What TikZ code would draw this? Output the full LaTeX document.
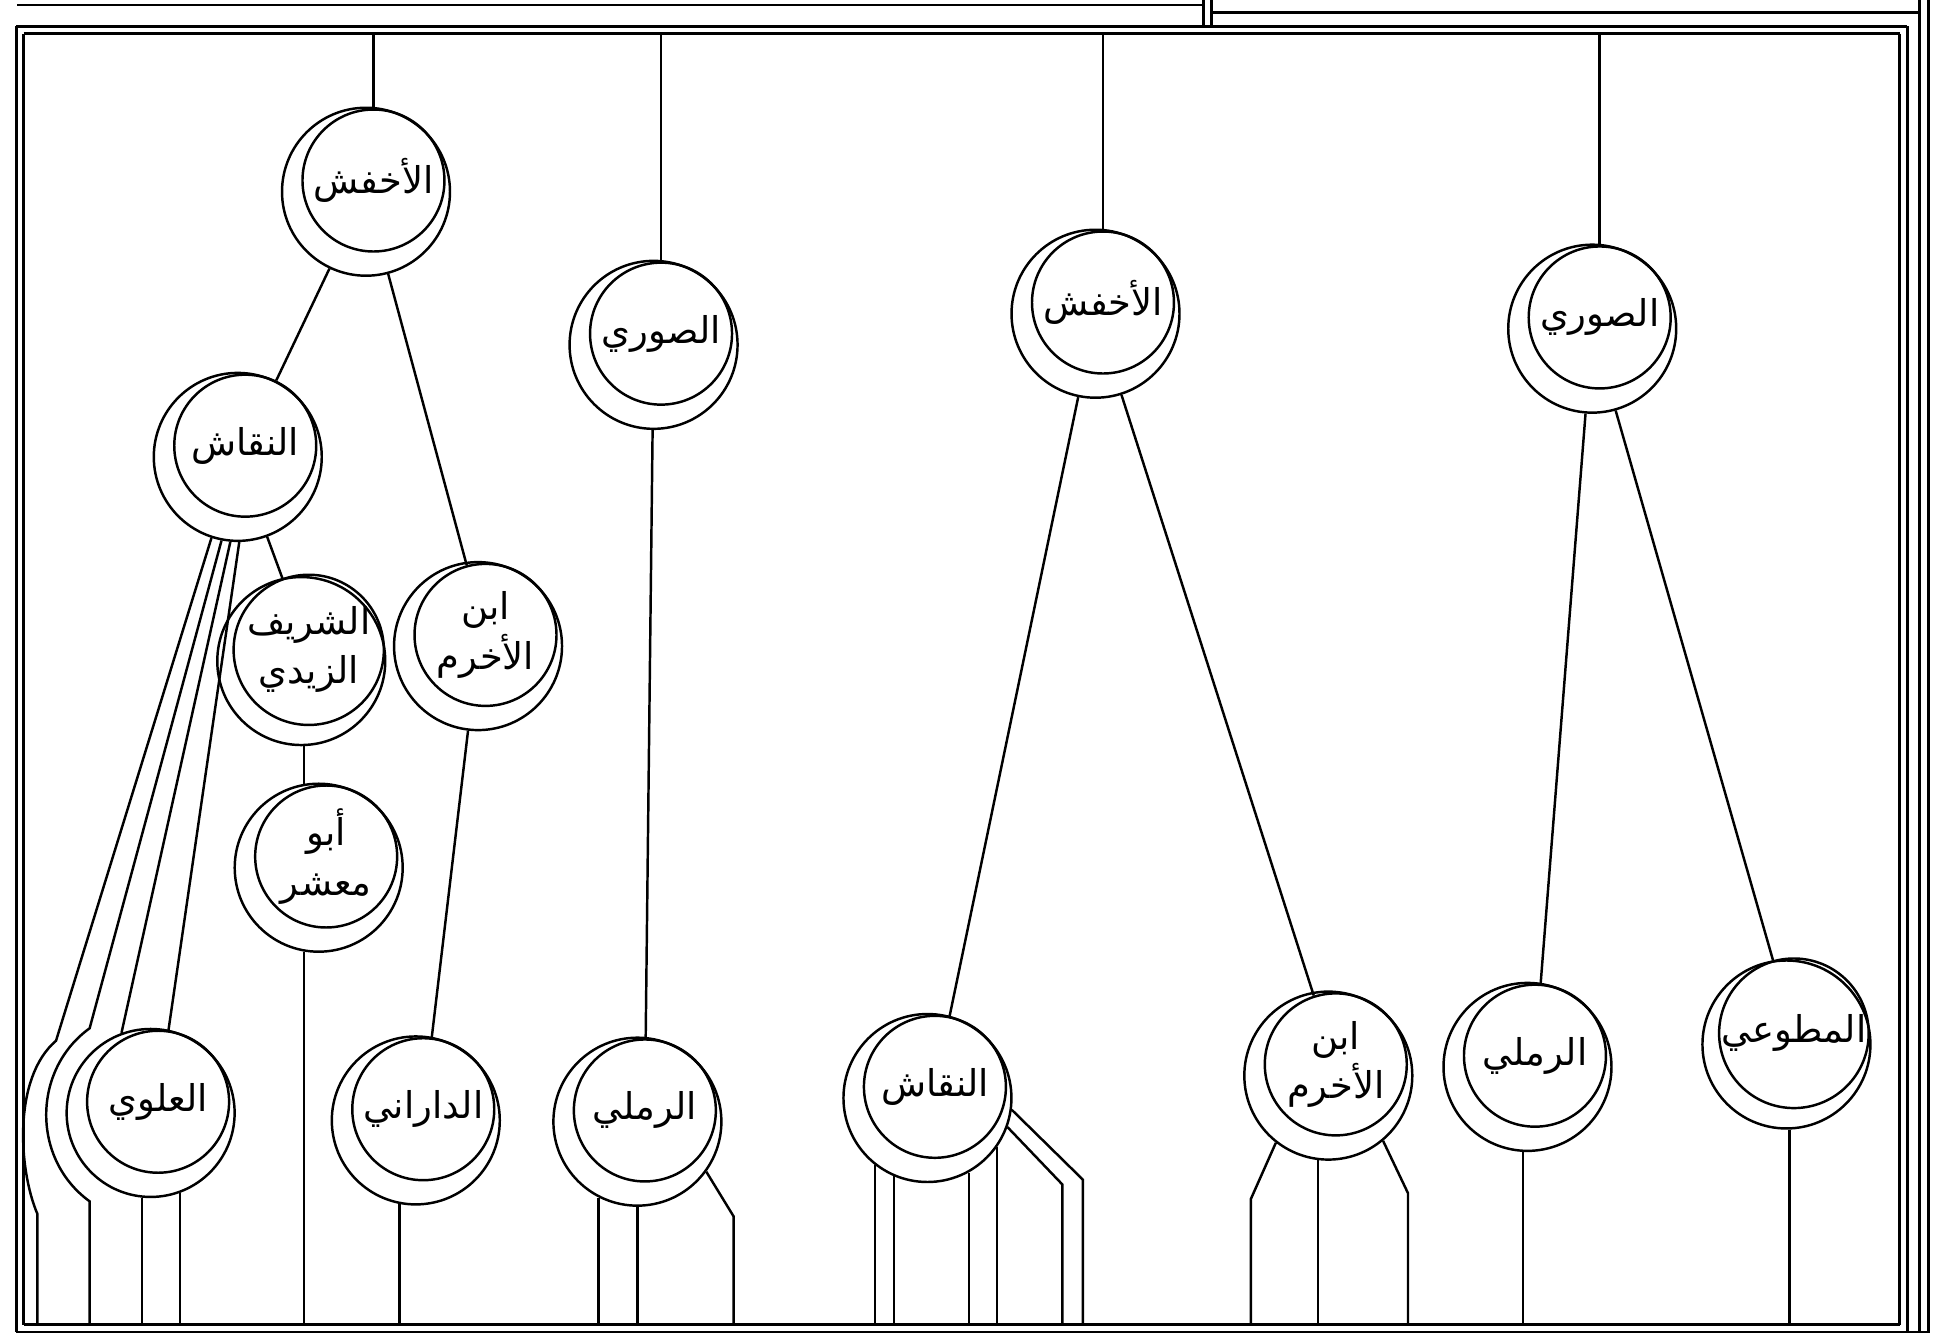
\documentclass[tikz,border=0pt]{standalone}
\usepackage{fontspec}
\newfontfamily\arabicfont[Script=Arabic]{DejaVu Sans}
\TeXXeTstate=1
\usetikzlibrary{positioning,calc}
\newcommand{\arb}[1]{\beginR #1\endR}

\begin{document}
\begin{tikzpicture}[x=0.01245cm,y=-0.01245cm,line width=0.7pt,
    rawi/.style={circle,draw,fill=white,minimum size=1.42cm,inner sep=0pt,align=center,
                 font=\arabicfont\fontsize{10.5}{14}\selectfont},
    halo/.style={circle,draw,minimum size=1.68cm,inner sep=0pt},
    frame/.style={line width=0.8pt}]
    \useasboundingbox (0,0) rectangle (1568,1071);
    % frame
    \draw[frame] (13,21) -- (1532,21);
    \draw[frame] (19,27) -- (1526,27);
    \draw[frame] (13,21) -- (13,1070);
    \draw[frame] (19,27) -- (19,1064);
    \draw[frame] (13,1070) -- (1550,1070);
    \draw[frame] (19,1064) -- (1526,1064);
    \draw[frame] (1526,27) -- (1526,1064);
    \draw[frame] (1532,21) -- (1532,1070);
    \draw[frame] (1542,0) -- (1542,1071);
    \draw[frame] (1549,0) -- (1549,1071);
    \draw[frame] (967,0) -- (967,21);
    \draw[frame] (973,0) -- (973,21);
    \draw (14,4) -- (967,4);
    \draw (973,10) -- (1542,10);
    \coordinate (top) at (0,27);
    \coordinate (bot) at (0,1064);
    % top row
    \node[rawi] (a1) at (300,145) {\arb{الأخفش}};
    \node[rawi] (s1) at (531,268) {\arb{الصوري}};
    \node[rawi] (a2) at (886,243) {\arb{الأخفش}};
    \node[rawi] (s2) at (1285,255) {\arb{الصوري}};
    % middle
    \node[rawi] (n1) at (197,358) {\arb{النقاش}};
    \node[rawi] (z) at (248,522) {\arb{الشريف}\\\arb{الزيدي}};
    \node[rawi] (ak1) at (390,510) {\arb{ابن}\\\arb{الأخرم}};
    \node[rawi] (am) at (262,688) {\arb{أبو}\\\arb{معشر}};
    % bottom row
    \node[rawi] (al) at (127,885) {\arb{العلوي}};
    \node[rawi] (da) at (340,891) {\arb{الداراني}};
    \node[rawi] (r1) at (518,892) {\arb{الرملي}};
    \node[rawi] (n2) at (751,873) {\arb{النقاش}};
    \node[rawi] (ak2) at (1073,855) {\arb{ابن}\\\arb{الأخرم}};
    \node[rawi] (r2) at (1233,848) {\arb{الرملي}};
    \node[rawi] (m) at (1441,830) {\arb{المطوعي}};
    % second ring
    \foreach \n in {a1,s1,a2,s2,n1,z,ak1,am,al,da,r1,n2,ak2,r2,m}
        \node[halo] (h\n) at ([shift={(-6,9)}]\n.center) {};
    % links
    \foreach \n in {a1,s1,a2,s2}
        \draw (\n |- top) -- (\n);
    \draw (ha1) -- (n1);
    \draw (ha1) -- (ak1);
    \draw (hn1) -- (z);
    \draw (hz.-88) -- (hz.-88 |- am.north);
    \draw (hak1) -- (da);
    \draw (hs1) -- (r1);
    \draw (ha2) -- (n2);
    \draw (ha2) -- (ak2);
    \draw (hs2) -- (r2);
    \draw (hs2) -- (m);
    % fan round al
    \draw (hn1.-108) -- (45,836) .. controls (10,866) and (15,940) .. (30,975) coordinate (w1) -- (w1 |- bot);
    \draw (hn1.-101) -- (72,826) .. controls (26,859) and (25,931) .. (72,965) coordinate (w2) -- (w2 |- bot);
    \draw (hn1.-95) -- (hal.110);
    \draw (hn1.-89) -- (al);
    % drops to the bottom rule
    \foreach \a in {ham.-100,hal.-70,hal.-96,hda.-101,hr1.-117,hr1.-90,hn2.-128,hn2.-113,hn2.-61,hn2.-35,hak2.-97,hr2.-93,hm.-88}
        \draw (\a) -- (\a |- bot);
    \foreach \a/\dx/\dy in {hr1.-36/22/36,hn2.-8/57/56,hn2.-20/44/46,hak2.-128/-20/45,hak2.-50/20/42}
        \draw (\a) -- ++(\dx,\dy) coordinate (k) -- (k |- bot);
\end{tikzpicture}
\end{document}
